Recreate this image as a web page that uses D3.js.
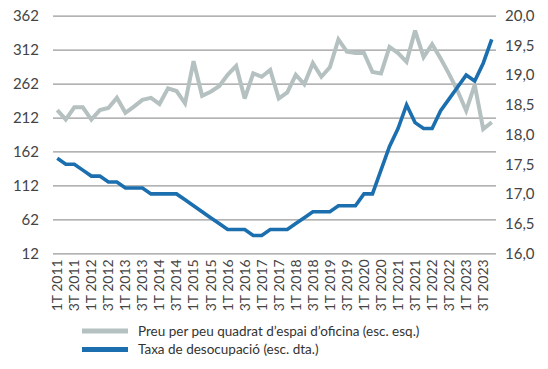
<!DOCTYPE html>
<html>
<head>
<meta charset="utf-8">
<script src="https://cdn.jsdelivr.net/npm/d3@7/dist/d3.min.js"></script>
<style>
  html, body { margin: 0; padding: 0; background: #fff; }
  svg { display: block; }
  text { font-family: Lato, "Open Sans", sans-serif; fill: #444; }
</style>
</head>
<body>
<svg id="chart" width="548" height="369"></svg>
<script>
// Quarters 1T 2011 .. 4T 2023
const years = d3.range(2011, 2024);
const quarters = years.flatMap(y => [1, 2, 3, 4].map(q => `${q}T ${y}`));

// Price per square foot of office space (left scale)
const preu = [
  223, 209, 227, 227, 209, 223, 226, 241, 219, 228, 238, 241, 232,
  255, 251, 233, 295, 244, 250, 258, 275, 288, 240, 277, 272, 282,
  240, 249, 275, 261, 292, 272, 286, 327, 309, 307, 307, 279, 277,
  316, 307, 294, 340, 301, 320, 299, 276, 251, 222, 260, 195, 205
];

// Unemployment rate (right scale)
const taxa = [
  17.6, 17.5, 17.5, 17.4, 17.3, 17.3, 17.2, 17.2, 17.1, 17.1, 17.1, 17.0, 17.0,
  17.0, 17.0, 16.9, 16.8, 16.7, 16.6, 16.5, 16.4, 16.4, 16.4, 16.3, 16.3, 16.4,
  16.4, 16.4, 16.5, 16.6, 16.7, 16.7, 16.7, 16.8, 16.8, 16.8, 17.0, 17.0, 17.4,
  17.8, 18.1, 18.5, 18.2, 18.1, 18.1, 18.4, 18.6, 18.8, 19.0, 18.9, 19.2, 19.6
];

const leftTicks = [12, 62, 112, 162, 212, 262, 312, 362];
const rightTicks = [16.0, 16.5, 17.0, 17.5, 18.0, 18.5, 19.0, 19.5, 20.0];

const legendItems = [
  { label: "Preu per peu quadrat d\u2019espai d\u2019oficina (esc. esq.)", color: "#b5c0c1" },
  { label: "Taxa de desocupaci\u00f3 (esc. dta.)", color: "#1b6fae" }
];

const plot = { left: 53, right: 496, top: 15.7, bottom: 253.3 };
const svg = d3.select("#chart");

const x = d3.scaleBand().domain(quarters).range([plot.left, plot.right]).padding(0);
const xc = d => x(d) + x.bandwidth() / 2;
const yL = d3.scaleLinear().domain([12, 362]).range([plot.bottom, plot.top]);
const yR = d3.scaleLinear().domain([16, 20]).range([plot.bottom, plot.top]);

// Horizontal gridlines + left labels
const gLeft = svg.append("g")
  .attr("transform", `translate(${plot.left},0)`)
  .call(d3.axisLeft(yL).tickValues(leftTicks).tickSize(-(plot.right - plot.left)).tickPadding(14));
gLeft.select(".domain").remove();
gLeft.selectAll(".tick line").attr("stroke", "#9a9a9a").attr("stroke-width", 1.3);
gLeft.selectAll(".tick text").attr("font-size", 15).style("fill", "#444");

// Right labels
const gRight = svg.append("g")
  .attr("transform", `translate(${plot.right},0)`)
  .call(d3.axisRight(yR).tickValues(rightTicks).tickSize(0).tickPadding(9)
    .tickFormat(d => d3.format(".1f")(d).replace(".", ",")));
gRight.select(".domain").remove();
gRight.selectAll(".tick text").attr("font-size", 15).style("fill", "#444");

// Bottom labels, every other quarter, rotated
const labelled = quarters.filter((q, i) => i % 2 === 0);
const gBottom = svg.append("g")
  .attr("transform", `translate(0,${plot.bottom})`)
  .call(d3.axisBottom(x).tickValues(labelled).tickSize(0).tickPadding(0));
gBottom.select(".domain").remove();
gBottom.selectAll(".tick text")
  .attr("font-size", 14)
  .style("fill", "#444")
  .attr("text-anchor", "end")
  .attr("dy", "0.35em")
  .attr("transform", "translate(0,6) rotate(-90)")
  .attr("x", 0).attr("y", 0);

// Lines
const linePreu = d3.line().x((d, i) => xc(quarters[i])).y(d => yL(d));
const lineTaxa = d3.line().x((d, i) => xc(quarters[i])).y(d => yR(d));

svg.append("path").datum(preu)
  .attr("d", linePreu).attr("fill", "none")
  .attr("stroke", legendItems[0].color).attr("stroke-width", 4)
  .attr("stroke-linejoin", "miter").attr("stroke-miterlimit", 3);

svg.append("path").datum(taxa)
  .attr("d", lineTaxa).attr("fill", "none")
  .attr("stroke", legendItems[1].color).attr("stroke-width", 3.6)
  .attr("stroke-linejoin", "miter").attr("stroke-miterlimit", 3);

// Legend
const legend = svg.append("g").attr("transform", "translate(82,331)");
legendItems.forEach((item, i) => {
  const g = legend.append("g").attr("transform", `translate(0,${i * 18.6})`);
  g.append("line").attr("x1", 0).attr("x2", 46).attr("y1", 0).attr("y2", 0)
    .attr("stroke", item.color).attr("stroke-width", 5);
  g.append("text").attr("x", 56).attr("y", 0).attr("dy", "0.35em")
    .attr("font-size", 13.5).style("fill", "#333").text(item.label);
});
</script>
</body>
</html>
